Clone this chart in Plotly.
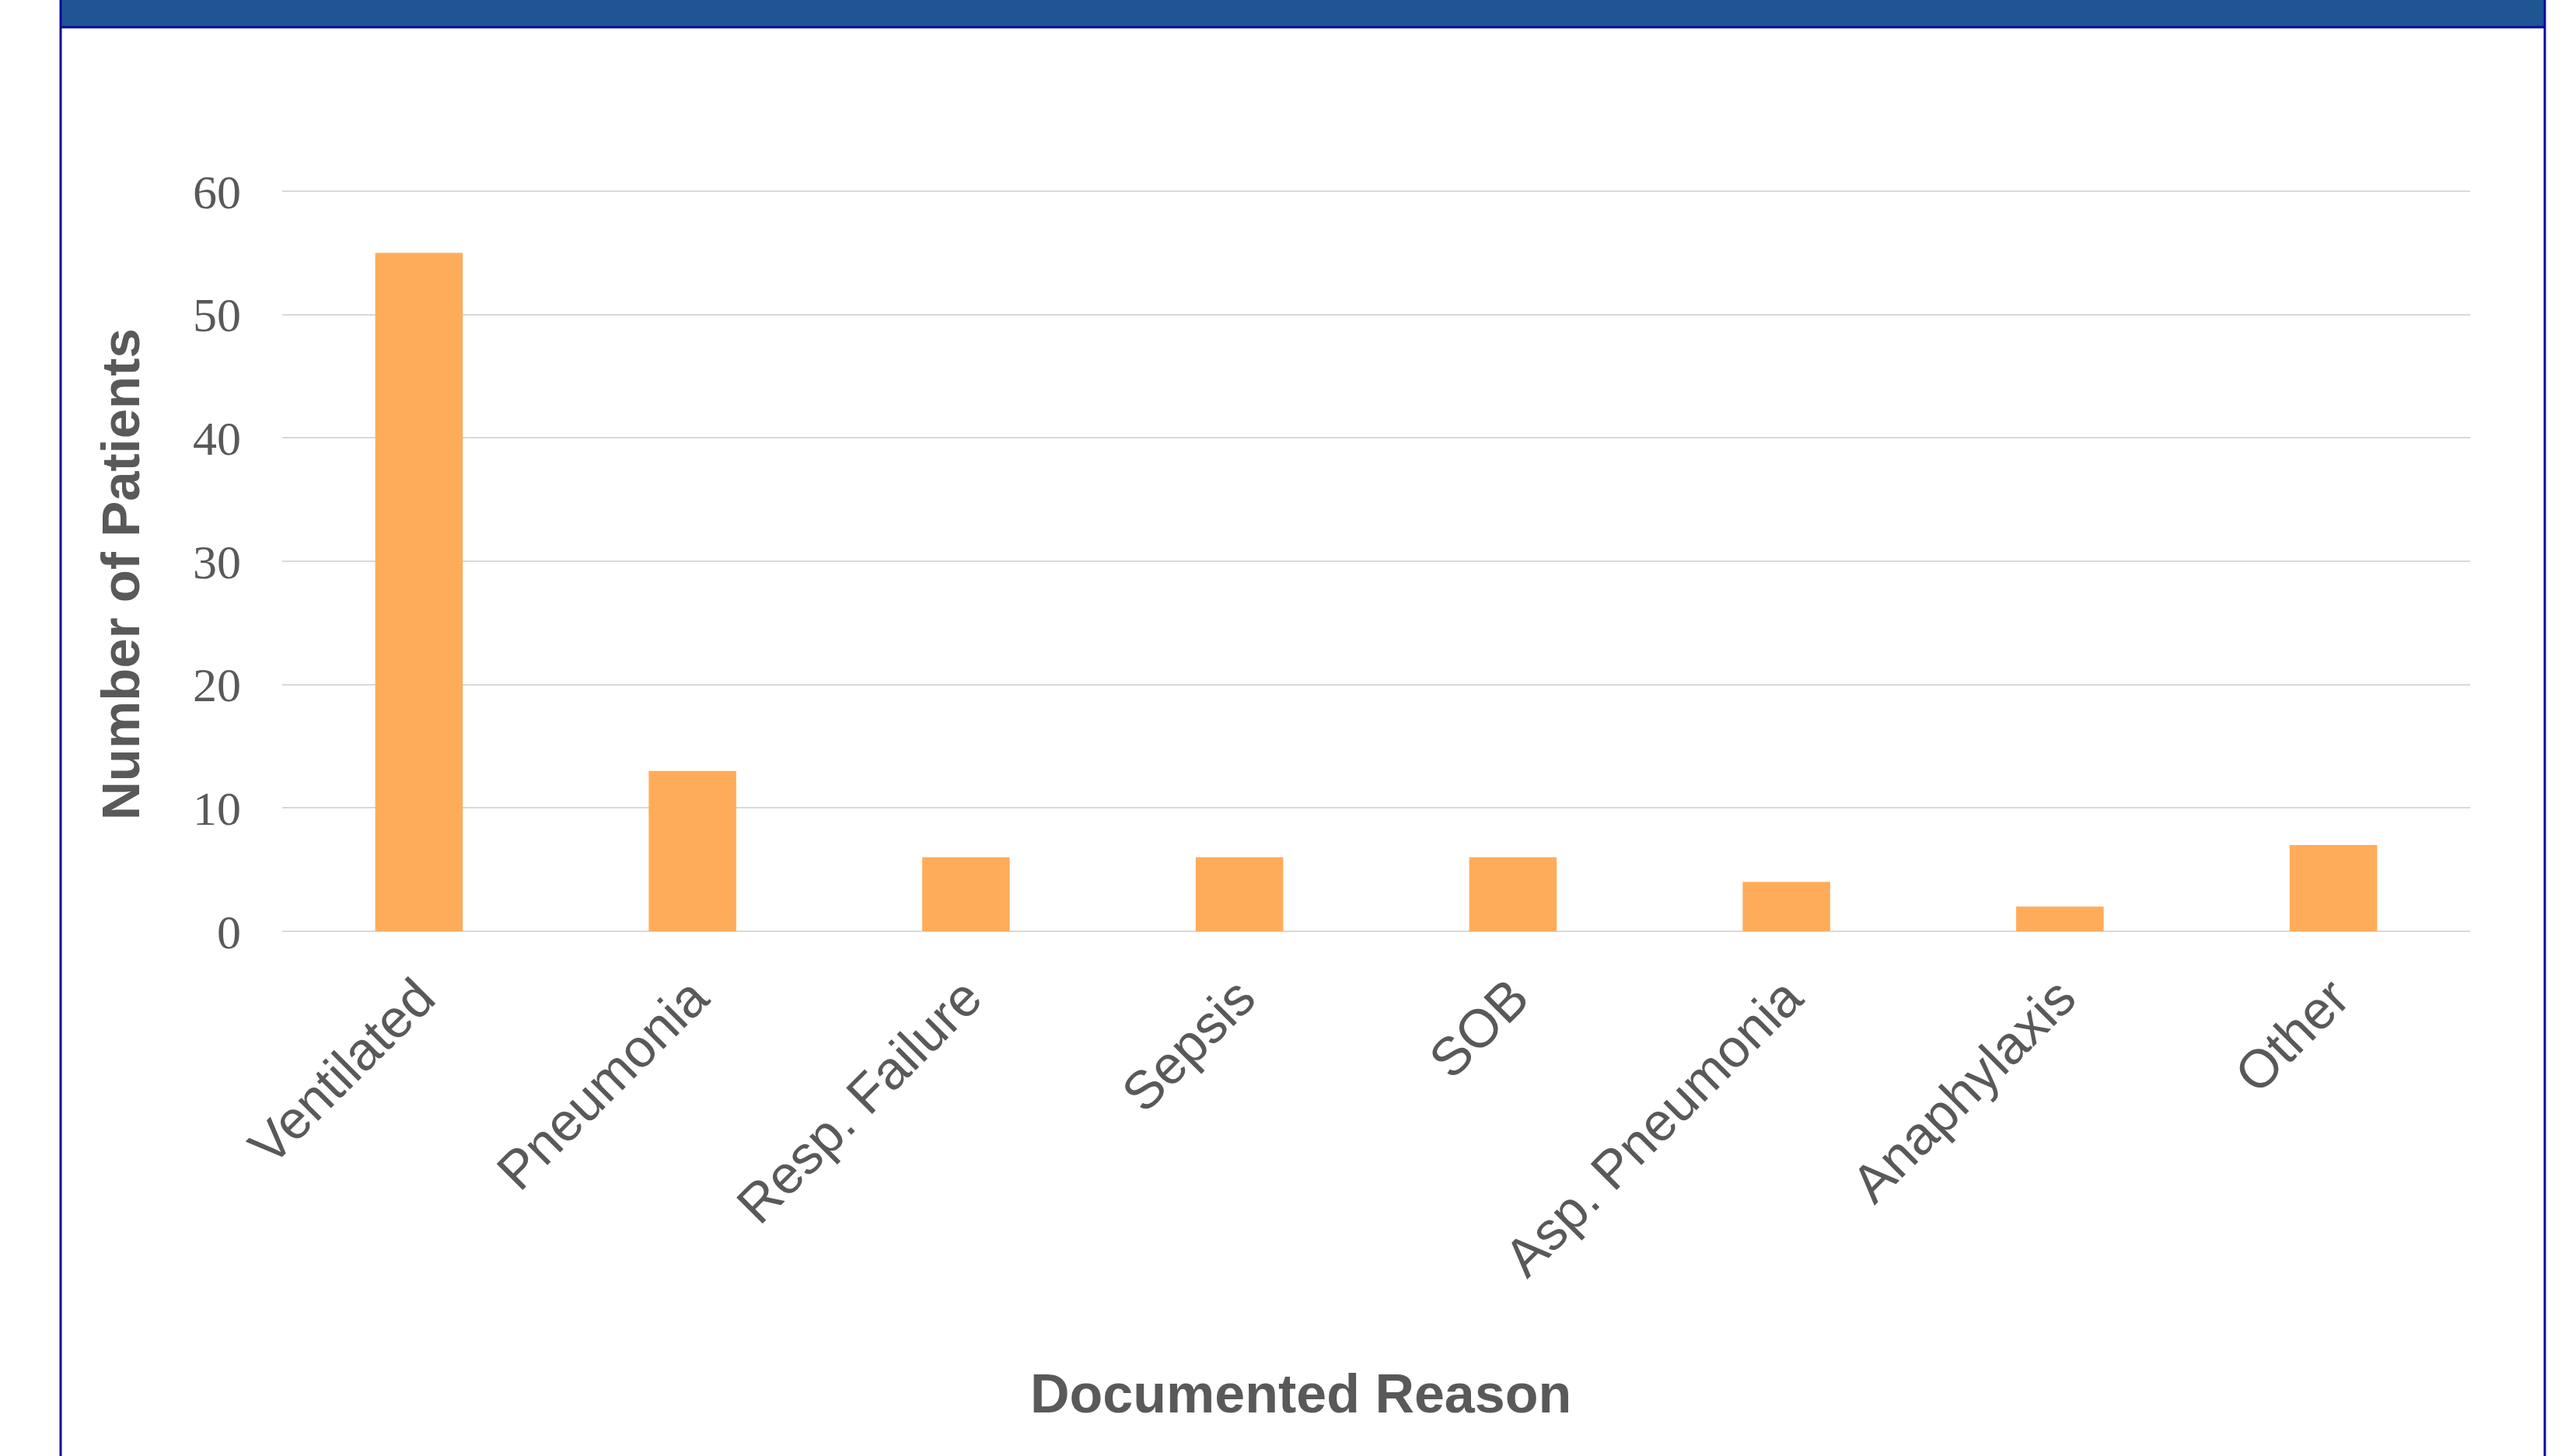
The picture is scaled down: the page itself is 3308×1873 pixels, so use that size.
import plotly.graph_objects as go

categories = ["Ventilated", "Pneumonia", "Resp. Failure", "Sepsis", "SOB",
              "Asp. Pneumonia", "Anaphylaxis", "Other"]
patients = [55, 13, 6, 6, 6, 4, 2, 7]
y_ticks = [0, 10, 20, 30, 40, 50, 60]

W, H = 3308, 1873
L, R, T, B = 363, 131, 230, 675
pw, ph = W - L - R, H - T - B

def px(x):
    return (x - L) / pw

def py(y):
    return 1 - (y - T) / ph

grey = "#595959"
fig = go.Figure(go.Bar(x=categories, y=patients, marker=dict(color="#ffac5a", line=dict(width=0)),
                       width=0.32))

fig.update_layout(
    width=W, height=H,
    margin=dict(l=L, r=R, t=T, b=B),
    paper_bgcolor="white", plot_bgcolor="white",
    showlegend=False,
    xaxis=dict(tickangle=-45, tickfont=dict(family="Liberation Sans, Arial", size=69, color=grey),
               showgrid=False, showline=False, ticks="", ticklabelstandoff=30),
    yaxis=dict(range=[0, 61], tickvals=y_ticks,
               tickfont=dict(family="Liberation Serif, Times New Roman", size=62, color=grey),
               showgrid=True, gridcolor="#d9d9d9", gridwidth=2,
               zeroline=True, zerolinecolor="#d9d9d9", zerolinewidth=2,
               ticks="", ticklabelstandoff=52, showline=False),
    annotations=[
        dict(text="<b>Documented Reason</b>", xref="paper", yref="paper",
             x=px(1673), y=py(1793), xanchor="center", yanchor="middle", showarrow=False,
             font=dict(family="Liberation Sans, Arial", size=70, color=grey)),
        dict(text="<b>Number of Patients</b>", xref="paper", yref="paper", textangle=-90,
             x=px(155), y=py(739), xanchor="center", yanchor="middle", showarrow=False,
             font=dict(family="Liberation Sans, Arial", size=69, color=grey)),
    ],
    shapes=[
        dict(type="rect", xref="paper", yref="paper", x0=px(77), x1=px(3274), y0=py(0), y1=py(34),
             fillcolor="#1f5593", line=dict(width=0), layer="above"),
        dict(type="line", xref="paper", yref="paper", x0=px(77), x1=px(3274), y0=py(35), y1=py(35),
             line=dict(color="#0a0a9e", width=3)),
        dict(type="line", xref="paper", yref="paper", x0=px(78), x1=px(78), y0=py(0), y1=py(H),
             line=dict(color="#0a0a9e", width=3)),
        dict(type="line", xref="paper", yref="paper", x0=px(3273), x1=px(3273), y0=py(0), y1=py(H),
             line=dict(color="#0a0a9e", width=3)),
    ],
)

fig.write_html("out.html")
